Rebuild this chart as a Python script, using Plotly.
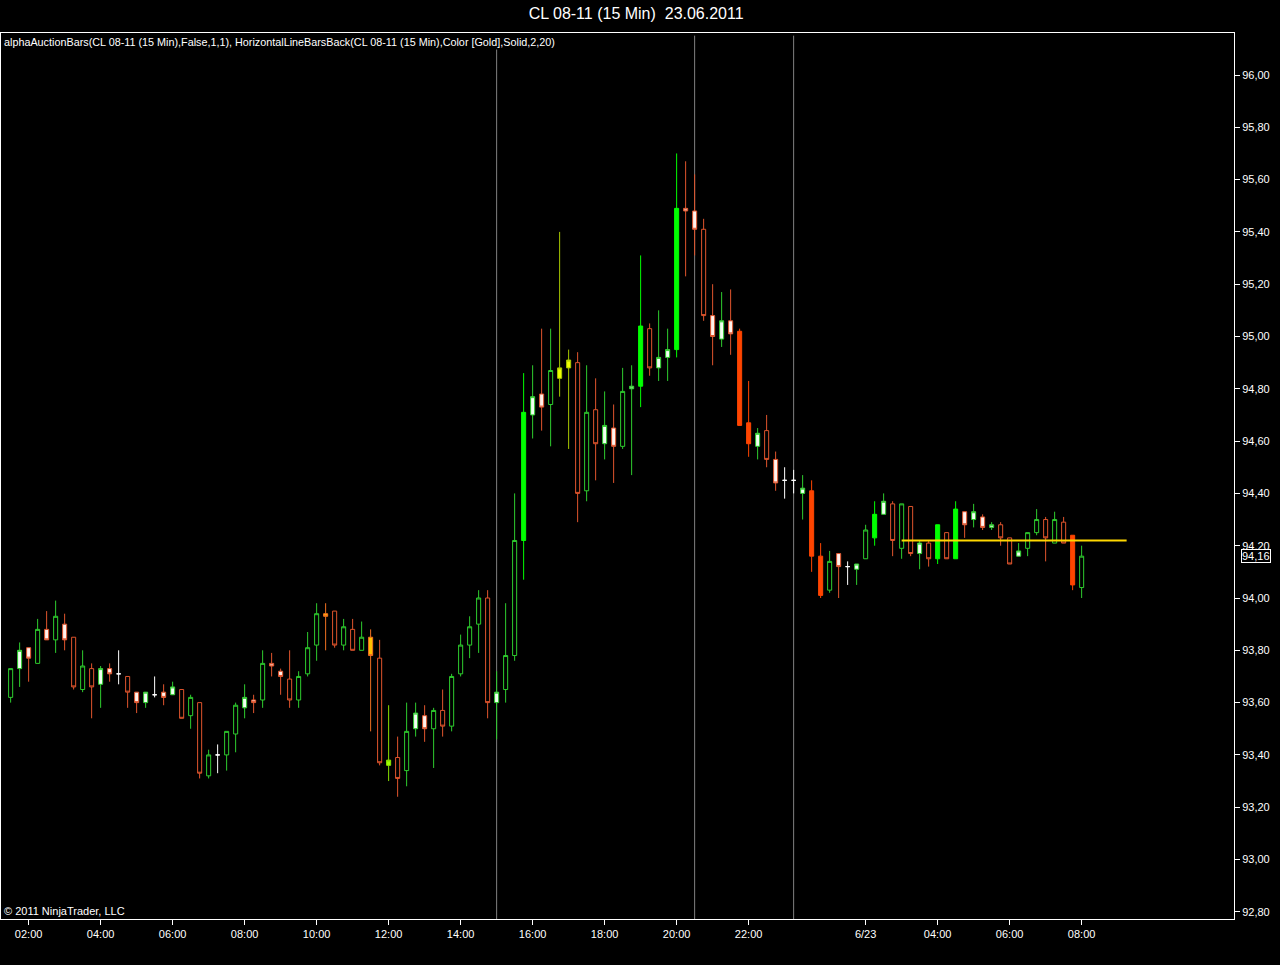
import plotly.graph_objects as go

# ---- data (bar index: 0 = 02:00 on 22.06, one bar = 15 min) ----
bar_index = list(range(-2, 118))
opens = [93.62, 93.73, 93.81, 93.75, 93.88, 93.84, 93.90, 93.85, 93.65, 93.73,
         93.67, 93.73, 93.71, 93.70, 93.64, 93.60, 93.63, 93.64, 93.63, 93.65,
         93.55, 93.60, 93.32, 93.40, 93.40, 93.48, 93.58, 93.61, 93.61, 93.75,
         93.72, 93.69, 93.61, 93.71, 93.82, 93.94, 93.95, 93.82, 93.88, 93.80,
         93.85, 93.77, 93.36, 93.39, 93.34, 93.50, 93.55, 93.50, 93.57, 93.51,
         93.71, 93.82, 93.90, 94.00, 93.60, 93.65, 93.78, 94.22, 94.70, 94.78,
         94.74, 94.84, 94.88, 94.90, 94.41, 94.72, 94.59, 94.65, 94.58, 94.80,
         94.81, 95.03, 94.88, 94.92, 94.95, 95.49, 95.48, 95.41, 95.08, 94.99,
         95.06, 95.02, 94.67, 94.58, 94.64, 94.53, 94.45, 94.45, 94.40, 94.41,
         94.16, 94.03, 94.17, 94.12, 94.11, 94.15, 94.23, 94.32, 94.36, 94.19,
         94.35, 94.17, 94.21, 94.15, 94.25, 94.15, 94.33, 94.30, 94.31, 94.27,
         94.28, 94.23, 94.16, 94.19, 94.25, 94.30, 94.21, 94.29, 94.24, 94.04]
highs = [93.73, 93.83, 93.81, 93.92, 93.95, 93.99, 93.94, 93.85, 93.80, 93.75,
         93.74, 93.75, 93.80, 93.70, 93.64, 93.64, 93.70, 93.67, 93.68, 93.65,
         93.63, 93.60, 93.42, 93.44, 93.49, 93.60, 93.67, 93.63, 93.80, 93.79,
         93.73, 93.80, 93.72, 93.87, 93.98, 93.98, 93.95, 93.92, 93.92, 93.91,
         93.88, 93.84, 93.59, 93.47, 93.60, 93.60, 93.59, 93.58, 93.65, 93.71,
         93.86, 93.93, 94.03, 94.03, 93.72, 93.98, 94.40, 94.86, 94.89, 95.03,
         95.03, 95.40, 94.95, 94.94, 94.89, 94.84, 94.79, 94.74, 94.88, 94.89,
         95.31, 95.05, 95.10, 95.03, 95.70, 95.67, 95.62, 95.45, 95.20, 95.17,
         95.18, 95.03, 94.83, 94.65, 94.70, 94.56, 94.50, 94.49, 94.47, 94.45,
         94.21, 94.18, 94.17, 94.14, 94.13, 94.28, 94.37, 94.40, 94.37, 94.36,
         94.35, 94.22, 94.22, 94.28, 94.25, 94.37, 94.33, 94.36, 94.32, 94.29,
         94.29, 94.23, 94.21, 94.25, 94.34, 94.31, 94.33, 94.31, 94.24, 94.20]
lows = [93.60, 93.66, 93.68, 93.75, 93.84, 93.79, 93.80, 93.65, 93.64, 93.54,
        93.58, 93.68, 93.67, 93.58, 93.56, 93.58, 93.62, 93.59, 93.63, 93.54,
        93.50, 93.31, 93.31, 93.33, 93.34, 93.41, 93.54, 93.56, 93.58, 93.70,
        93.63, 93.58, 93.58, 93.70, 93.76, 93.80, 93.81, 93.80, 93.80, 93.80,
        93.49, 93.36, 93.30, 93.24, 93.28, 93.47, 93.45, 93.35, 93.47, 93.49,
        93.70, 93.77, 93.79, 93.54, 93.46, 93.60, 93.76, 94.07, 94.61, 94.64,
        94.58, 94.77, 94.57, 94.29, 94.37, 94.45, 94.53, 94.44, 94.57, 94.47,
        94.73, 94.85, 94.83, 94.83, 94.92, 95.23, 95.31, 95.06, 94.89, 94.96,
        94.93, 94.66, 94.54, 94.53, 94.50, 94.41, 94.38, 94.40, 94.30, 94.10,
        94.00, 94.02, 94.00, 94.05, 94.05, 94.15, 94.20, 94.32, 94.16, 94.15,
        94.16, 94.11, 94.12, 94.13, 94.15, 94.15, 94.23, 94.27, 94.26, 94.26,
        94.20, 94.13, 94.16, 94.16, 94.24, 94.14, 94.21, 94.21, 94.03, 94.00]
closes = [93.73, 93.80, 93.77, 93.88, 93.84, 93.93, 93.84, 93.66, 93.74, 93.66,
          93.73, 93.71, 93.71, 93.64, 93.60, 93.64, 93.63, 93.62, 93.66, 93.54,
          93.62, 93.33, 93.40, 93.40, 93.49, 93.59, 93.62, 93.60, 93.75, 93.74,
          93.70, 93.61, 93.70, 93.81, 93.94, 93.93, 93.82, 93.89, 93.80, 93.85,
          93.78, 93.37, 93.38, 93.31, 93.49, 93.56, 93.50, 93.57, 93.51, 93.70,
          93.82, 93.89, 94.00, 93.60, 93.64, 93.78, 94.22, 94.71, 94.77, 94.73,
          94.87, 94.88, 94.91, 94.40, 94.71, 94.59, 94.66, 94.58, 94.79, 94.81,
          95.04, 94.88, 94.92, 94.95, 95.49, 95.48, 95.41, 95.08, 95.00, 95.06,
          95.01, 94.66, 94.59, 94.63, 94.53, 94.44, 94.45, 94.45, 94.42, 94.16,
          94.01, 94.14, 94.12, 94.12, 94.13, 94.26, 94.32, 94.37, 94.22, 94.36,
          94.17, 94.21, 94.15, 94.28, 94.15, 94.34, 94.28, 94.33, 94.27, 94.28,
          94.23, 94.13, 94.18, 94.25, 94.30, 94.23, 94.30, 94.21, 94.05, 94.16]
# bar colouring of alphaAuctionBars
bar_style = ["gh", "gw", "ow", "gh", "ow", "gh", "ow", "oh", "gh", "oh",
             "gw", "ow", "dj", "oh", "ow", "gw", "dj", "ow", "gw", "oh",
             "gh", "oh", "gh", "dj", "gh", "gh", "gw", "ow", "gh", "ow",
             "ow", "oh", "gh", "gh", "gh", "go", "oh", "gh", "oh", "gh",
             "go", "oh", "lm", "oh", "gh", "gw", "ow", "gh", "oh", "gh",
             "gh", "gh", "gh", "oh", "gw", "gh", "gh", "gf", "gw", "ow",
             "gh", "yg", "yg", "oh", "gh", "oh", "gw", "ow", "gh", "gw",
             "gf", "oh", "gw", "gw", "gf", "ow", "ow", "oh", "ow", "gw",
             "ow", "of", "of", "gw", "oh", "ow", "dj", "dj", "gw", "of",
             "of", "gh", "ow", "dj", "gw", "gh", "gf", "gw", "oh", "gh",
             "oh", "gw", "oh", "gf", "oh", "gf", "ow", "gw", "ow", "gw",
             "oh", "oh", "gw", "gh", "gh", "oh", "gh", "oh", "of", "gh"]

tick_bars = [0, 8, 16, 24, 32, 40, 48, 56, 64, 72, 80, 93, 101, 109, 117]
tick_text = ["02:00", "04:00", "06:00", "08:00", "10:00", "12:00", "14:00",
             "16:00", "18:00", "20:00", "22:00", "6/23", "04:00", "06:00", "08:00"]
price_ticks = [92.8, 93.0, 93.2, 93.4, 93.6, 93.8, 94.0, 94.2, 94.4,
               94.6, 94.8, 95.0, 95.2, 95.4, 95.6, 95.8, 96.0]
session_bars = [52, 74, 85]
gold_level = 94.22
gold_bars = [97, 122]
last_price = 94.16

# ---- styles ----
STYLES = {
    "gh": ("#2ecc2e", "rgba(0,0,0,1)"),
    "gw": ("#2ecc2e", "#f2fff2"),
    "gf": ("#00ff00", "#00ff00"),
    "oh": ("#e0552d", "rgba(0,0,0,1)"),
    "ow": ("#e0552d", "#fff2ec"),
    "of": ("#ff4500", "#ff4500"),
    "dj": ("#ffffff", "#ffffff"),
    "yg": ("#a8c800", "#f0ff00"),
    "go": ("#f07020", "#ffc000"),
    "lm": ("#88e000", "#a0ff00"),
}

fig = go.Figure()
for code, (lc, fc) in STYLES.items():
    idx = [i for i, s in enumerate(bar_style) if s == code]
    if not idx:
        continue
    fig.add_trace(go.Candlestick(
        x=[bar_index[i] for i in idx],
        open=[opens[i] for i in idx],
        high=[highs[i] for i in idx],
        low=[lows[i] for i in idx],
        close=[closes[i] for i in idx],
        increasing=dict(line=dict(color=lc, width=1), fillcolor=fc),
        decreasing=dict(line=dict(color=lc, width=1), fillcolor=fc),
        whiskerwidth=0, showlegend=False, hoverinfo="skip",
    ))

fig.add_trace(go.Scatter(
    x=gold_bars, y=[gold_level, gold_level], mode="lines",
    line=dict(color="#FFD700", width=2), showlegend=False, hoverinfo="skip"))

for b in session_bars:
    fig.add_shape(type="line", xref="x", yref="paper", x0=b, x1=b, y0=0, y1=0.997,
                  line=dict(color="#808080", width=1), layer="below")

font = "Liberation Sans, Arial, sans-serif"
fig.update_layout(
    width=1280, height=965,
    paper_bgcolor="black", plot_bgcolor="black",
    margin=dict(l=1, r=46, t=33, b=46),
    separators=",.",
    boxgap=0.55, boxgroupgap=0,
    font=dict(family=font, color="white", size=11),
    title=dict(text="CL 08-11 (15 Min)\u00a0\u00a023.06.2011", xref="container", x=0.497,
               y=1 - 13 / 965, yanchor="middle", xanchor="center",
               font=dict(size=16, color="white", family=font)),
    xaxis=dict(range=[-3.07, 133.93], tickmode="array", tickvals=tick_bars,
               ticktext=tick_text, ticks="outside", ticklen=5, tickcolor="white",
               showline=True, linecolor="white", linewidth=1, mirror=True,
               showgrid=False, zeroline=False, rangeslider=dict(visible=False),
               tickfont=dict(size=11, color="white", family=font)),
    yaxis=dict(range=[92.7725, 96.1606], side="right", tickmode="array",
               tickvals=price_ticks, tickformat=".2f", ticks="outside", ticklen=5,
               tickcolor="white", showline=True, linecolor="white", linewidth=1,
               mirror=True, showgrid=False, zeroline=False,
               tickfont=dict(size=11, color="white", family=font)),
    annotations=[
        dict(text="alphaAuctionBars(CL 08-11 (15 Min),False,1,1), HorizontalLineBarsBack(CL 08-11 (15 Min),Color [Gold],Solid,2,20)",
             xref="paper", yref="paper", x=0, y=1, xanchor="left", yanchor="top",
             showarrow=False, bgcolor="black", font=dict(size=10.8, color="white", family=font),
             xshift=1, yshift=-1, borderpad=1),
        dict(text="\u00a9 2011 NinjaTrader, LLC", xref="paper", yref="paper", x=0, y=0,
             xanchor="left", yanchor="bottom", showarrow=False,
             font=dict(size=11, color="white", family=font), xshift=1, yshift=0),
        dict(text=f"{last_price:.2f}".replace(".", ","), xref="paper", yref="y", x=1,
             y=last_price, xanchor="left", yanchor="middle", showarrow=False,
             bgcolor="black", bordercolor="white", borderwidth=1, borderpad=0,
             font=dict(size=11, color="white", family=font), xshift=7),
    ],
)

fig.write_html("out.html", config={"displayModeBar": False},
               post_script="document.body.style.margin='0';document.body.style.overflow='hidden';")
